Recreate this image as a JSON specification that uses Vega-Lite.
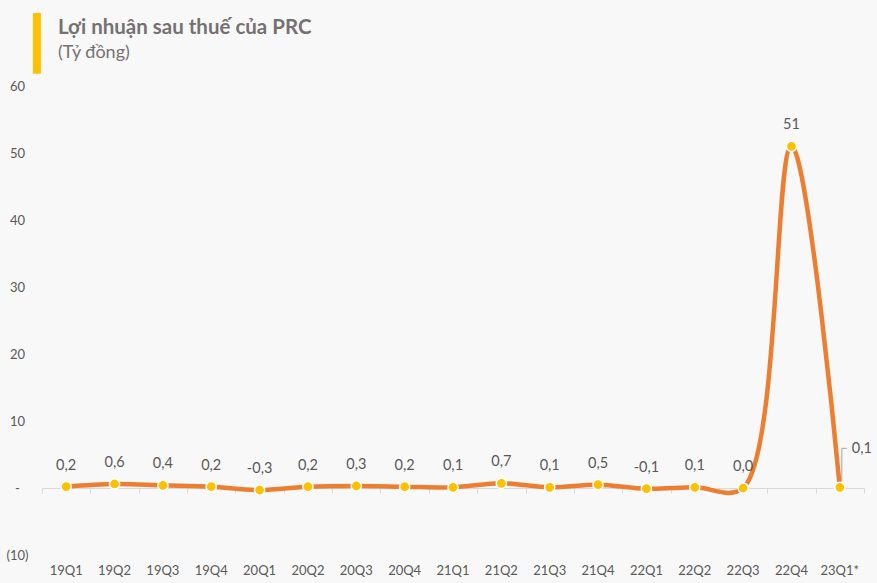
{
  "$schema": "https://vega.github.io/schema/vega-lite/v6.json",
  "width": 822,
  "height": 469,
  "autosize": {"type": "none"},
  "padding": {"left": 42, "top": 86, "right": 13, "bottom": 28},
  "background": "#f8f8f8",
  "title": {
    "text": "Lợi nhuận sau thuế của PRC",
    "subtitle": "(Tỷ đồng)",
    "anchor": "start",
    "frame": "group",
    "dx": 16,
    "offset": -43,
    "font": "Lato",
    "fontSize": 20.5,
    "fontWeight": "bold",
    "color": "#767171",
    "subtitleFont": "Lato",
    "subtitleFontSize": 18,
    "subtitleColor": "#767171",
    "subtitlePadding": 6
  },
  "config": {
    "view": {"stroke": null},
    "font": "Lato"
  },
  "data": {
    "values": [
      {"q": "19Q1", "v": 0.2, "label": "0,2"},
      {"q": "19Q2", "v": 0.6, "label": "0,6"},
      {"q": "19Q3", "v": 0.4, "label": "0,4"},
      {"q": "19Q4", "v": 0.2, "label": "0,2"},
      {"q": "20Q1", "v": -0.3, "label": "-0,3"},
      {"q": "20Q2", "v": 0.2, "label": "0,2"},
      {"q": "20Q3", "v": 0.3, "label": "0,3"},
      {"q": "20Q4", "v": 0.2, "label": "0,2"},
      {"q": "21Q1", "v": 0.1, "label": "0,1"},
      {"q": "21Q2", "v": 0.7, "label": "0,7"},
      {"q": "21Q3", "v": 0.1, "label": "0,1"},
      {"q": "21Q4", "v": 0.5, "label": "0,5"},
      {"q": "22Q1", "v": -0.1, "label": "-0,1"},
      {"q": "22Q2", "v": 0.1, "label": "0,1"},
      {"q": "22Q3", "v": 0.0, "label": "0,0"},
      {"q": "22Q4", "v": 51, "label": "51"},
      {"q": "23Q1*", "v": 0.1, "label": "0,1"}
    ]
  },
  "encoding": {
    "x": {"field": "q", "type": "nominal", "sort": null, "scale": {"paddingInner": 0, "paddingOuter": 0}},
    "y": {"field": "v", "type": "quantitative", "scale": {"domain": [-10, 60], "nice": false, "zero": false}}
  },
  "resolve": {"axis": {"x": "independent", "y": "independent"}},
  "layer": [
    {
      "mark": {"type": "line", "interpolate": "catmull-rom", "color": "#ED7D31", "strokeWidth": 4.5},
      "encoding": {
        "x": {"field": "q", "type": "nominal", "sort": null, "title": null,
          "axis": {"orient": "bottom", "labelAngle": 0, "domain": false, "ticks": false, "labelFontSize": 13, "labelColor": "#595959", "labelPadding": 9, "labelFont": "Lato"}},
        "y": {"field": "v", "type": "quantitative", "title": "┃",
          "axis": {"orient": "left", "values": [-10, 0, 10, 20, 30, 40, 50, 60], "grid": false, "domain": false, "ticks": false,
            "labelFontSize": 13, "labelColor": "#595959", "labelAlign": "center", "labelPadding": 25, "labelFont": "Lato",
            "labelExpr": "datum.value == 0 ? '-' : (datum.value < 0 ? '(' + abs(datum.value) + ')' : datum.label)",
            "titleAngle": 0, "titleX": -5.5, "titleY": -66, "titleAlign": "center", "titleBaseline": "top",
            "titleFont": "DejaVu Sans Mono", "titleFontSize": 51, "titleFontWeight": "normal", "titleColor": "#FFC000"}}
      }
    },
    {
      "transform": [{"filter": "datum.q == '23Q1*'"}],
      "mark": {"type": "rule", "color": "#a6a6a6", "strokeWidth": 1, "xOffset": 2, "x2Offset": 2, "yOffset": -6, "y2Offset": -39},
      "encoding": {
        "x": {"field": "q", "type": "nominal", "sort": null, "axis": null},
        "y": {"field": "v", "type": "quantitative", "axis": null},
        "y2": {"field": "v"}
      }
    },
    {
      "transform": [{"filter": "datum.q == '23Q1*'"}],
      "mark": {"type": "rule", "color": "#a6a6a6", "strokeWidth": 1, "xOffset": 2, "x2Offset": 7, "yOffset": -39, "y2Offset": -39},
      "encoding": {
        "x": {"field": "q", "type": "nominal", "sort": null, "axis": null},
        "x2": {"field": "q"},
        "y": {"field": "v", "type": "quantitative", "axis": null}
      }
    },
    {
      "mark": {"type": "point", "filled": true, "color": "#FFC000", "size": 105, "stroke": "#ffffff", "strokeWidth": 1.5, "opacity": 1},
      "encoding": {
        "x": {"field": "q", "type": "nominal", "sort": null, "title": null,
          "axis": {"orient": "bottom", "offset": -67, "labels": false, "domain": true, "domainColor": "#d9d9d9", "domainWidth": 1,
            "ticks": true, "tickBand": "extent", "tickSize": 5, "tickColor": "#d9d9d9"}},
        "y": {"field": "v", "type": "quantitative", "axis": null}
      }
    },
    {
      "transform": [{"filter": "datum.q != '23Q1*'"}],
      "mark": {"type": "text", "dy": -21, "fontSize": 14.5, "color": "#595959", "font": "Lato"},
      "encoding": {
        "text": {"field": "label"},
        "x": {"field": "q", "type": "nominal", "sort": null, "axis": null},
        "y": {"field": "v", "type": "quantitative", "axis": null}
      }
    },
    {
      "transform": [{"filter": "datum.q == '23Q1*'"}],
      "mark": {"type": "text", "dx": 22, "dy": -38, "fontSize": 14.5, "color": "#595959", "font": "Lato"},
      "encoding": {
        "text": {"field": "label"},
        "x": {"field": "q", "type": "nominal", "sort": null, "axis": null},
        "y": {"field": "v", "type": "quantitative", "axis": null}
      }
    }
  ]
}
